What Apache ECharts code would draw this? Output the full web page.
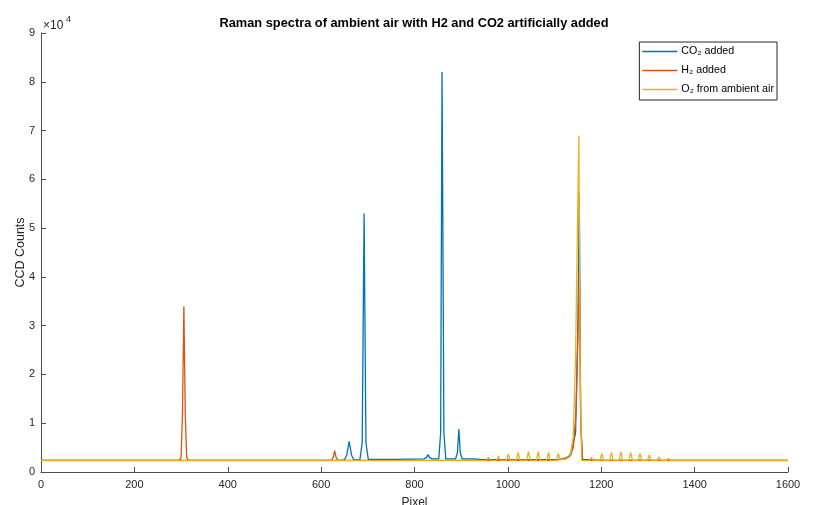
<!DOCTYPE html>
<html>
<head>
<meta charset="utf-8">
<script src="https://cdn.jsdelivr.net/npm/echarts@6/dist/echarts.min.js"></script>
<style>
html, body { margin: 0; padding: 0; background: #fff; }
#main { width: 816px; height: 505px; }
</style>
</head>
<body>
<div id="main"></div>
<script>
// series names (legend)
var seriesNames = ['CO₂ added', 'H₂ added', 'O₂ from ambient air'];

// CO2 added
var co2Pixel  = [0, 640, 650, 655, 660, 665, 670, 683, 688, 692, 696, 701, 760, 820, 826, 829, 832, 838, 852, 856, 859, 863, 867, 888, 892, 895, 898, 902, 915, 919, 922, 925, 928, 940, 1000, 1120, 1135, 1145, 1150, 1153, 1156, 1160, 1200, 1600];
var co2Counts = [2400, 2400, 2500, 3500, 6300, 3500, 2500, 2500, 6000, 53000, 6000, 2600, 2600, 2700, 3000, 3600, 3000, 2700, 2700, 8000, 82000, 8000, 2700, 2700, 4000, 8800, 4000, 2700, 2700, 2900, 2700, 2900, 2700, 2600, 2500, 2600, 3500, 8000, 30000, 57000, 10000, 2600, 2400, 2400];

// H2 added
var h2Pixel  = [0, 296, 300, 303, 306, 309, 312, 316, 622, 626, 629, 632, 636, 1100, 1130, 1140, 1146, 1150, 1153, 1156, 1160, 1600];
var h2Counts = [2400, 2400, 3000, 12000, 34000, 12000, 3000, 2400, 2400, 3000, 4400, 3000, 2400, 2400, 3000, 5000, 12000, 28000, 41000, 10000, 2400, 2400];

// O2 from ambient air
var o2Pixel  = [0, 912, 915, 918, 933, 937, 941, 954, 958, 962, 976, 980, 984, 997, 1001, 1005, 1018, 1022, 1026, 1040, 1044, 1048, 1061, 1065, 1069, 1083, 1087, 1091, 1104, 1108, 1112, 1125, 1133, 1140, 1145, 1149, 1152, 1155, 1158, 1175, 1179, 1183, 1197, 1201, 1205, 1218, 1222, 1226, 1238, 1242, 1246, 1259, 1263, 1267, 1279, 1283, 1287, 1299, 1303, 1307, 1320, 1324, 1328, 1340, 1344, 1348, 1360, 1364, 1368, 1380, 1383, 1386, 1600];
var o2Counts = [2350, 2350, 2500, 2350, 2350, 2700, 2350, 2350, 3000, 2350, 2350, 3300, 2350, 2350, 3700, 2350, 2350, 4000, 2350, 2350, 4200, 2350, 2350, 4200, 2350, 2350, 4000, 2350, 2400, 3800, 2500, 2700, 3100, 7200, 24000, 50000, 69000, 20000, 2400, 2350, 3000, 2350, 2350, 3800, 2350, 2350, 4000, 2350, 2350, 4150, 2350, 2350, 4000, 2350, 2350, 3800, 2350, 2350, 3500, 2350, 2350, 3100, 2350, 2350, 2800, 2350, 2350, 2600, 2350, 2350, 2450, 2350, 2350];

var colors = ['#0072BD', '#D95319', '#EDB120'];

function pairs(xs, ys) {
    return xs.map(function (x, i) { return [x, ys[i]]; });
}

var myChart = echarts.init(document.getElementById('main'), null, { renderer: 'canvas' });

var axisColor = '#4d4d4d';
var font = 'Arial, "Liberation Sans", Helvetica, sans-serif';

function mkSeries(i, data) {
    return {
        name: seriesNames[i],
        type: 'line',
        data: data,
        symbol: 'none',
        showSymbol: false,
        animation: false,
        lineStyle: { width: 1.3, color: colors[i] },
        itemStyle: { color: colors[i] }
    };
}

var option = {
    backgroundColor: '#fff',
    animation: false,
    title: {
        text: 'Raman spectra of ambient air with H2 and CO2 artificially added',
        left: 409,
        textAlign: 'center',
        top: 12,
        textStyle: { fontSize: 12.8, fontWeight: 'bold', color: '#000', fontFamily: font }
    },
    legend: {
        orient: 'vertical',
        right: 39,
        top: 42,
        data: seriesNames,
        icon: 'rect',
        backgroundColor: '#fff',
        borderColor: '#262626',
        borderWidth: 1,
        borderRadius: 0,
        padding: [3, 3, 4, 3],
        itemGap: 6,
        itemWidth: 35,
        itemHeight: 1.5,
        textStyle: { fontSize: 10.7, lineHeight: 13, color: '#000', fontFamily: font, padding: [0, 0, 0, -1] }
    },
    grid: { left: 41, right: 28, top: 33, bottom: 33, containLabel: false, outerBoundsMode: 'none' },
    xAxis: {
        type: 'value',
        min: 0, max: 1600, interval: 200,
        name: 'Pixel',
        nameLocation: 'middle',
        nameGap: 25,
        nameTextStyle: { fontSize: 12, color: '#262626', fontFamily: font },
        axisLine: { show: true, onZero: false, lineStyle: { color: axisColor } },
        axisTick: { show: true, inside: true, length: 5, lineStyle: { color: axisColor } },
        axisLabel: {
            fontSize: 11, color: '#262626', fontFamily: font, margin: 7,
            formatter: function (v) { return String(v); }
        },
        splitLine: { show: false }
    },
    yAxis: {
        type: 'value',
        min: 0, max: 90000, interval: 10000,
        name: 'CCD Counts',
        nameLocation: 'middle',
        nameGap: 14,
        nameMoveOverlap: false,
        nameTextStyle: { fontSize: 12.5, color: '#262626', fontFamily: font },
        axisLine: { show: true, onZero: false, lineStyle: { color: axisColor } },
        axisTick: { show: true, inside: true, length: 5, lineStyle: { color: axisColor } },
        axisLabel: {
            fontSize: 11, color: '#262626', fontFamily: font, margin: 6,
            formatter: function (v) { return String(v / 10000); }
        },
        splitLine: { show: false }
    },
    graphic: [{
        type: 'text',
        left: 43, top: 20,
        style: { text: '×10', fill: '#262626', font: '12px ' + font }
    }, {
        type: 'text',
        left: 66, top: 15,
        style: { text: '4', fill: '#262626', font: '9px ' + font }
    }],
    series: [
        mkSeries(0, pairs(co2Pixel, co2Counts)),
        mkSeries(1, pairs(h2Pixel, h2Counts)),
        mkSeries(2, pairs(o2Pixel, o2Counts))
    ]
};

myChart.setOption(option);
</script>
</body>
</html>
